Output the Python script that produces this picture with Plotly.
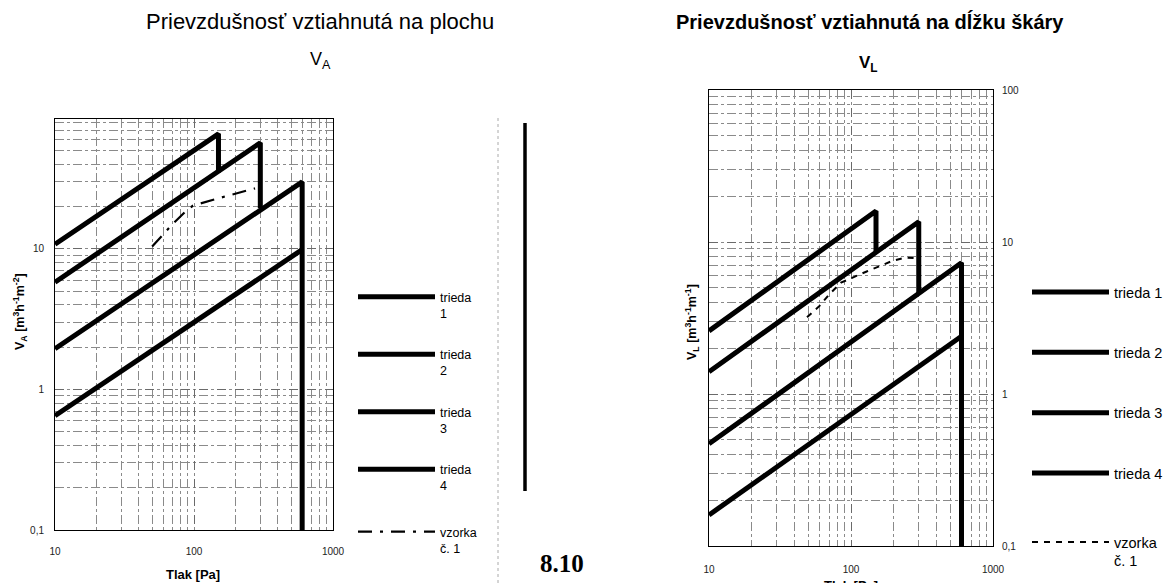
import plotly.graph_objects as go

W, H = 1165, 583

# ---------------- data ----------------
# left chart: air permeability related to area V_A
classes = ["trieda<br>1", "trieda<br>2", "trieda<br>3", "trieda<br>4"]
classes_r = ["trieda 1", "trieda 2", "trieda 3", "trieda 4"]
sample_name = "vzorka<br>č. 1"

a1_x = [10, 150, 150]
a1_y = [10.8, 66, 35]
a2_x = [10, 300, 300]
a2_y = [5.8, 57, 19.5]
a3_x = [10, 600, 600]
a3_y = [1.95, 30, 0.1]
a4_x = [10, 600]
a4_y = [0.65, 9.9]
a_s_x = [50, 70, 86, 98, 146, 275]
a_s_y = [10.4, 15, 18.3, 20.3, 22.8, 27]

# right chart: air permeability related to joint length V_L
l1_x = [10, 150, 150]
l1_y = [2.6, 16, 8.7]
l2_x = [10, 300, 300]
l2_y = [1.4, 13.6, 4.6]
l3_x = [10, 600, 600]
l3_y = [0.47, 7.3, 0.1]
l4_x = [10, 600]
l4_y = [0.16, 2.4]
l_s_x = [49, 60, 70, 85, 129, 195, 240, 300]
l_s_y = [3.2, 3.8, 4.5, 5.4, 6.4, 7.5, 7.9, 7.8]

x_ticks = [10, 100, 1000]
x_ticktext = ["10", "100", "1000"]
ya_ticks = [0.1, 1, 10]
ya_ticktext = ["0,1", "1", "10"]
yl_ticks = [0.1, 1, 10, 100]
yl_ticktext = ["0,1", "1", "10", "100"]

# ---------------- figure ----------------
def px(x):
    return x / W

def py(y):
    return 1 - y / H

fig = go.Figure()

thick = dict(color="black", width=5)
left_series = [(a1_x, a1_y), (a2_x, a2_y), (a3_x, a3_y), (a4_x, a4_y)]
for i, (xs, ys) in enumerate(left_series):
    fig.add_trace(go.Scatter(x=xs, y=ys, mode="lines", line=thick, name=classes[i],
                             xaxis="x", yaxis="y", legend="legend", legendgroup=f"a{i}"))
fig.add_trace(go.Scatter(x=a_s_x, y=a_s_y, mode="lines", name=sample_name,
                         line=dict(color="black", width=2.2, dash="14px,8px,3px,8px"),
                         xaxis="x", yaxis="y", legend="legend3"))

right_series = [(l1_x, l1_y), (l2_x, l2_y), (l3_x, l3_y), (l4_x, l4_y)]
for i, (xs, ys) in enumerate(right_series):
    fig.add_trace(go.Scatter(x=xs, y=ys, mode="lines", line=thick, name=classes_r[i],
                             xaxis="x2", yaxis="y2", legend="legend2", legendgroup=f"l{i}"))
fig.add_trace(go.Scatter(x=l_s_x, y=l_s_y, mode="lines", name=sample_name,
                         line=dict(color="black", width=2, dash="6px,6px"),
                         xaxis="x2", yaxis="y2", legend="legend4"))

grid_major = dict(gridcolor="#6a6a6a", gridwidth=1, griddash="dash")
minor = dict(dtick="D1", showgrid=True, gridcolor="#8a8a8a", gridwidth=0.8,
             griddash="dashdot", ticks="")
tickfont = dict(family="Liberation Sans, Arial", size=10, color="#222")

common = dict(type="log", showline=True, mirror=True, linecolor="black", linewidth=1,
              ticks="", tickfont=tickfont, zeroline=False, minor=minor,
              automargin=False, **grid_major)

leg_common = dict(xanchor="left", yanchor="top", itemwidth=77, valign="top",
                  bgcolor="rgba(0,0,0,0)")
lf_left = dict(family="Liberation Sans, Arial", size=12.5)
lf_right = dict(family="Liberation Sans, Arial", size=14.5)

fig.update_layout(
    width=W, height=H, margin=dict(l=0, r=0, t=0, b=0, autoexpand=False),
    paper_bgcolor="white", plot_bgcolor="white",
    font=dict(family="Liberation Sans, Arial", color="black"),
    xaxis=dict(domain=[px(55), px(333)], anchor="y", range=[1, 3],
               tickvals=x_ticks, ticktext=x_ticktext, ticklabelstandoff=12, **common),
    yaxis=dict(domain=[py(530), py(119)], anchor="x", range=[-1, 1.925],
               tickvals=ya_ticks, ticktext=ya_ticktext, ticklabelstandoff=8, **common),
    xaxis2=dict(domain=[px(709), px(993)], anchor="y2", range=[1, 3],
                tickvals=x_ticks, ticktext=x_ticktext, ticklabelstandoff=14, **common),
    yaxis2=dict(domain=[py(546), py(90)], anchor="x2", range=[-1, 2], side="right",
                tickvals=yl_ticks, ticktext=yl_ticktext, ticklabelstandoff=6, **common),
    legend=dict(x=px(353), y=py(282), tracegroupgap=22, font=lf_left, **leg_common),
    legend3=dict(x=px(353), y=py(517), font=lf_left, **leg_common),
    legend2=dict(x=px(1027), y=py(276), tracegroupgap=38.5, font=lf_right, **leg_common),
    legend4=dict(x=px(1027), y=py(526), font=lf_right, **leg_common),
    showlegend=True,
)

ann = [
    dict(x=px(320), y=py(22), text="Prievzdušnosť vztiahnutá na plochu",
         font=dict(size=22)),
    dict(x=px(320), y=py(60), text="V<sub>A</sub>", font=dict(size=18)),
    dict(x=px(870), y=py(22), text="<b>Prievzdušnosť vztiahnutá na dĺžku škáry</b>",
         font=dict(size=20)),
    dict(x=px(868), y=py(64), text="<b>V<sub>L</sub></b>", font=dict(size=17)),
    dict(x=px(20), y=py(312), text="<b>V<sub>A</sub> [m<sup>3</sup>h<sup>-1</sup>m<sup>-2</sup>]</b>",
         textangle=-90, font=dict(size=12.5)),
    dict(x=px(692), y=py(322), text="<b>V<sub>L</sub> [m<sup>3</sup>h<sup>-1</sup>m<sup>-1</sup>]</b>",
         textangle=-90, font=dict(size=12.5)),
    dict(x=px(193), y=py(574), text="<b>Tlak [Pa]</b>", font=dict(size=13)),
    dict(x=px(851), y=py(585), text="<b>Tlak [Pa]</b>", font=dict(size=13)),
    dict(x=px(562), y=py(563), text="<b>8.10</b>",
         font=dict(family="Liberation Serif, Times New Roman", size=25)),
]
for a in ann:
    a.update(xref="paper", yref="paper", showarrow=False, xanchor="center", yanchor="middle")
fig.update_layout(annotations=ann)

fig.add_shape(type="line", xref="paper", yref="paper", x0=px(525), x1=px(525),
              y0=py(123), y1=py(491), line=dict(color="black", width=3.5))
fig.add_shape(type="line", xref="paper", yref="paper", x0=px(498), x1=px(498),
              y0=py(118), y1=py(583), line=dict(color="#aaaaaa", width=1, dash="dot"))

fig.write_html("out.html", config={"displayModeBar": False},
               post_script="document.body.style.margin='0';document.body.style.overflow='hidden';")
